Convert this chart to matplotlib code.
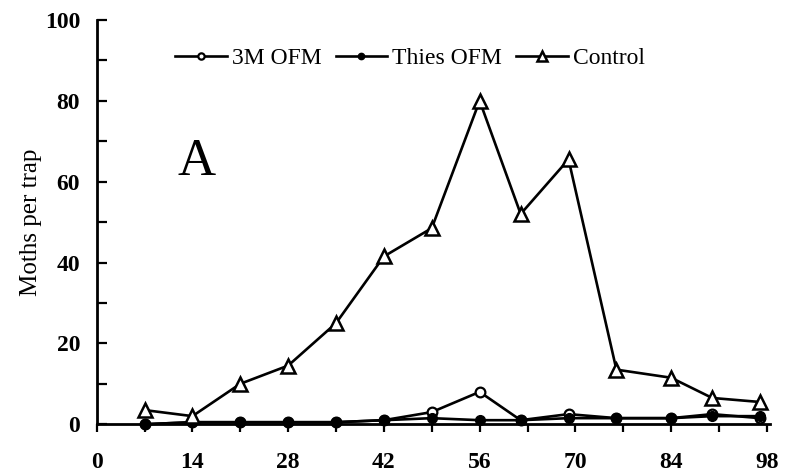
import matplotlib.pyplot as plt
from matplotlib.ticker import MultipleLocator, NullFormatter

# sampling days and moth counts
days = [7, 14, 21, 28, 35, 42, 49, 56, 62, 69, 76, 84, 90, 97]
ofm_3m = [0, 0.5, 0.5, 0.5, 0.5, 1, 3, 8, 1, 2.5, 1.5, 1.5, 2.5, 1.5]
ofm_thies = [0, 0.5, 0.5, 0.5, 0.5, 1, 1.5, 1, 1, 1.5, 1.5, 1.5, 2, 2]
control = [3.5, 2, 10, 14.5, 25, 41.5, 48.5, 80, 52, 65.5, 13.5, 11.5, 6.5, 5.5]

plt.rcParams['font.family'] = ['Liberation Serif', 'DejaVu Serif']

fig = plt.figure(figsize=(7.86, 4.74), dpi=100)
ax = fig.add_axes([0.123, 0.105, 0.857, 0.853])

lw = 1.9
ax.plot(days, ofm_3m, color='black', lw=lw, marker='o', ms=7,
        mfc='white', mec='black', mew=1.6, label='3M OFM', clip_on=False, zorder=3)
ax.plot(days, ofm_thies, color='black', lw=lw, marker='o', ms=7,
        mfc='black', mec='black', label='Thies OFM', clip_on=False, zorder=4)
ax.plot(days, control, color='black', lw=lw, marker='^', ms=10,
        mfc='white', mec='black', mew=1.8, label='Control', clip_on=False, zorder=5)

ax.set_xlim(0, 98.5)
ax.set_ylim(0, 100)

ax.spines['top'].set_visible(False)
ax.spines['right'].set_visible(False)
ax.spines['left'].set_linewidth(2)
ax.spines['bottom'].set_linewidth(2)

ax.xaxis.set_major_locator(MultipleLocator(14))
ax.xaxis.set_minor_locator(MultipleLocator(7))
ax.xaxis.set_minor_formatter(NullFormatter())
ax.yaxis.set_major_locator(MultipleLocator(20))
ax.yaxis.set_minor_locator(MultipleLocator(10))

ax.tick_params(axis='x', which='both', direction='out', length=6, width=1.6,
               labelsize=17, pad=14)
ax.tick_params(axis='y', which='both', direction='in', length=7, width=1.6,
               labelsize=17, pad=12)
for t in ax.get_xticklabels() + ax.get_yticklabels():
    t.set_fontweight('bold')

ax.set_ylabel('Moths per trap', fontsize=18, labelpad=2)
ax.text(14.6, 64.8, 'A', fontsize=38, ha='center', va='center')

ax.legend(loc='center', bbox_to_anchor=(0.465, 0.905), ncol=3, frameon=False,
          fontsize=17, handlelength=2.2, handletextpad=0.2, columnspacing=0.6,
          markerscale=0.65)

fig.savefig('out.png', dpi=100)
